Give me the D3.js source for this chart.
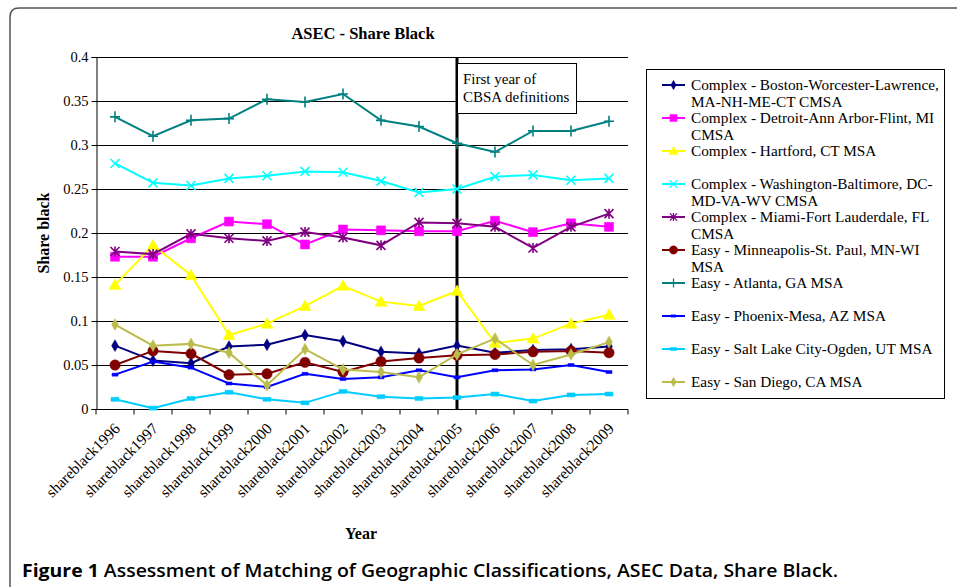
<!DOCTYPE html>
<html>
<head>
<meta charset="utf-8">
<script src="https://cdn.jsdelivr.net/npm/d3@7"></script>
<style>
  body { margin: 0; background: #fff; }
  svg { display: block; }
  text { font-family: "Liberation Serif", "Times New Roman", serif; fill: #000; }
</style>
</head>
<body>
<svg width="957" height="587"></svg>
<script>
// categories on the x axis
var years = ["shareblack1996", "shareblack1997", "shareblack1998", "shareblack1999", "shareblack2000",
  "shareblack2001", "shareblack2002", "shareblack2003", "shareblack2004", "shareblack2005",
  "shareblack2006", "shareblack2007", "shareblack2008", "shareblack2009"];

var yTicks = [0, 0.05, 0.1, 0.15, 0.2, 0.25, 0.3, 0.35, 0.4];

var boston      = [0.072, 0.055, 0.052, 0.071, 0.073, 0.084, 0.077, 0.065, 0.063, 0.072, 0.064, 0.067, 0.068, 0.071];
var detroit     = [0.173, 0.173, 0.194, 0.213, 0.210, 0.187, 0.204, 0.203, 0.202, 0.202, 0.214, 0.201, 0.211, 0.207];
var hartford    = [0.141, 0.186, 0.152, 0.084, 0.097, 0.117, 0.140, 0.122, 0.117, 0.134, 0.075, 0.080, 0.097, 0.107];
var washington  = [0.279, 0.257, 0.254, 0.262, 0.265, 0.270, 0.269, 0.259, 0.246, 0.250, 0.264, 0.266, 0.260, 0.262];
var miami       = [0.179, 0.176, 0.199, 0.194, 0.191, 0.201, 0.195, 0.186, 0.212, 0.211, 0.207, 0.183, 0.207, 0.222];
var minneapolis = [0.050, 0.066, 0.063, 0.039, 0.040, 0.053, 0.042, 0.054, 0.058, 0.061, 0.062, 0.065, 0.066, 0.064];
var atlanta     = [0.332, 0.310, 0.328, 0.330, 0.352, 0.349, 0.358, 0.328, 0.321, 0.302, 0.292, 0.316, 0.316, 0.327];
var phoenix     = [0.039, 0.054, 0.047, 0.029, 0.025, 0.040, 0.034, 0.036, 0.044, 0.036, 0.044, 0.045, 0.050, 0.042];
var saltLake    = [0.011, 0.001, 0.012, 0.019, 0.011, 0.007, 0.020, 0.014, 0.012, 0.013, 0.017, 0.009, 0.016, 0.017];
var sanDiego    = [0.096, 0.072, 0.074, 0.064, 0.027, 0.068, 0.045, 0.042, 0.036, 0.062, 0.080, 0.050, 0.062, 0.076];

var seriesNames = [
  ["Complex - Boston-Worcester-Lawrence,", "MA-NH-ME-CT CMSA"],
  ["Complex - Detroit-Ann Arbor-Flint, MI", "CMSA"],
  ["Complex - Hartford, CT MSA"],
  ["Complex - Washington-Baltimore, DC-", "MD-VA-WV CMSA"],
  ["Complex - Miami-Fort Lauderdale, FL", "CMSA"],
  ["Easy - Minneapolis-St. Paul, MN-WI", "MSA"],
  ["Easy - Atlanta, GA MSA"],
  ["Easy - Phoenix-Mesa, AZ MSA"],
  ["Easy - Salt Lake City-Ogden, UT MSA"],
  ["Easy - San Diego, CA MSA"]
];
var seriesValues = [boston, detroit, hartford, washington, miami, minneapolis, atlanta, phoenix, saltLake, sanDiego];
var seriesColors = ["#000080", "#ff00ff", "#ffff00", "#00ffff", "#800080", "#800000", "#008080", "#0000ff", "#00ccff", "#bcbc4c"];
var seriesMarkers = ["diamond", "square", "triangle", "x", "star", "circle", "plus", "dash", "bar", "diamond"];

var cbsaYear = "shareblack2005";

var svg = d3.select("svg");
var margin = {left: 96, right: 628, top: 57, bottom: 409};

// outer figure frame
svg.append("path")
  .attr("d", "M10,587 L10,17 Q10,8 19,8 L957,8")
  .style("fill", "none")
  .style("stroke", "#555")
  .style("stroke-width", 1.5);

var x = d3.scaleBand().domain(years).range([margin.left, margin.right]);
var y = d3.scaleLinear().domain([0, 0.4]).range([margin.bottom, margin.top]);
var cx = function(d) { return x(d) + x.bandwidth() / 2; };

// gridlines
svg.append("g").selectAll("line")
  .data(yTicks.filter(function(t) { return t > 0; }))
  .enter().append("line")
  .attr("x1", margin.left).attr("x2", margin.right)
  .attr("y1", function(d) { return Math.round(y(d)) + 0.5; })
  .attr("y2", function(d) { return Math.round(y(d)) + 0.5; })
  .style("stroke", "#000").style("stroke-width", 1);

// y axis
var yAxis = svg.append("g")
  .attr("transform", "translate(" + (margin.left + 0.5) + ",0)")
  .call(d3.axisLeft(y).tickValues(yTicks).tickSize(5).tickPadding(3).tickFormat(function(d) { return String(d); }));
yAxis.selectAll("text").style("font-family", "Liberation Serif").style("font-size", "14.5px");

// x axis, ticks between categories
var xAxis = svg.append("g")
  .attr("transform", "translate(0," + (margin.bottom + 0.5) + ")");
xAxis.append("line")
  .attr("x1", margin.left).attr("x2", margin.right)
  .style("stroke", "#000");
xAxis.selectAll("line.tk")
  .data(years.concat(["end"]))
  .enter().append("line")
  .attr("class", "tk")
  .attr("x1", function(d, i) { return margin.left + i * x.bandwidth(); })
  .attr("x2", function(d, i) { return margin.left + i * x.bandwidth(); })
  .attr("y1", 0).attr("y2", 5)
  .style("stroke", "#000");
xAxis.selectAll("text")
  .data(years)
  .enter().append("text")
  .attr("text-anchor", "end")
  .attr("transform", function(d) { return "translate(" + (cx(d) + 6) + ",20) rotate(-45)"; })
  .style("font-size", "15.5px")
  .text(function(d) { return d; });

// CBSA marker line
svg.append("line")
  .attr("x1", cx(cbsaYear)).attr("x2", cx(cbsaYear))
  .attr("y1", margin.top).attr("y2", margin.bottom + 1)
  .style("stroke", "#000").style("stroke-width", 3);

svg.append("rect")
  .attr("x", cx(cbsaYear) + 0.5).attr("y", 63.5)
  .attr("width", 119).attr("height", 50)
  .style("fill", "#fff").style("stroke", "#000");
svg.append("text").attr("x", cx(cbsaYear) + 6).attr("y", 84).style("font-size", "15px").text("First year of");
svg.append("text").attr("x", cx(cbsaYear) + 6).attr("y", 102).style("font-size", "15px").text("CBSA definitions");

function markerPath(kind) {
  switch (kind) {
    case "diamond": return d3.symbol(d3.symbolDiamond, 40)();
    case "square": return "M-4.5,-4.5h9v9h-9z";
    case "triangle": return "M0,-6L6,4.5L-6,4.5Z";
    case "circle": return d3.symbol(d3.symbolCircle, 85)();
    case "x": return "M-4.5,-4.5L4.5,4.5M-4.5,4.5L4.5,-4.5";
    case "star": return "M-4.5,-4.5L4.5,4.5M-4.5,4.5L4.5,-4.5M0,-5L0,5";
    case "plus": return "M-5,0L5,0M0,-5.5L0,5.5";
    case "dash": return "M-3,-1.5h6v3h-6z";
    case "bar": return "M-4,-2h8v4h-8z";
  }
}
var strokeMarkers = {x: true, star: true, plus: true};

var line = d3.line()
  .x(function(d, i) { return cx(years[i]); })
  .y(function(d) { return y(d); });

seriesValues.forEach(function(vals, s) {
  var g = svg.append("g");
  g.append("path")
    .attr("d", line(vals))
    .style("fill", "none")
    .style("stroke", seriesColors[s])
    .style("stroke-width", 2);
  g.selectAll("path.m")
    .data(vals)
    .enter().append("path")
    .attr("class", "m")
    .attr("d", markerPath(seriesMarkers[s]))
    .attr("transform", function(d, i) { return "translate(" + cx(years[i]) + "," + y(d) + ")"; })
    .style("fill", strokeMarkers[seriesMarkers[s]] ? "none" : seriesColors[s])
    .style("stroke", seriesColors[s])
    .style("stroke-width", strokeMarkers[seriesMarkers[s]] ? 1.6 : 0.5);
});

// legend
var legend = svg.append("g");
legend.append("rect")
  .attr("x", 646.5).attr("y", 69.5)
  .attr("width", 298).attr("height", 329)
  .style("fill", "#fff").style("stroke", "#000");
var legendY = d3.scaleLinear().domain([0, 9]).range([85, 382]);
seriesNames.forEach(function(lines, s) {
  var ly = legendY(s);
  var e = legend.append("g");
  e.append("line")
    .attr("x1", 662).attr("x2", 685)
    .attr("y1", ly).attr("y2", ly)
    .style("stroke", seriesColors[s]).style("stroke-width", 2);
  e.append("path")
    .attr("d", markerPath(seriesMarkers[s]))
    .attr("transform", "translate(673.5," + ly + ") scale(0.8)")
    .style("fill", strokeMarkers[seriesMarkers[s]] ? "none" : seriesColors[s])
    .style("stroke", seriesColors[s])
    .style("stroke-width", strokeMarkers[seriesMarkers[s]] ? 1.6 : 0.5);
  lines.forEach(function(t, k) {
    e.append("text")
      .attr("x", 691).attr("y", ly + 5 + k * 17)
      .style("font-size", "15.3px")
      .text(t);
  });
});

// titles
svg.append("text")
  .attr("x", 363).attr("y", 39)
  .attr("text-anchor", "middle")
  .style("font-size", "16.5px").style("font-weight", "bold")
  .text("ASEC - Share Black");
svg.append("text")
  .attr("x", 361).attr("y", 539)
  .attr("text-anchor", "middle")
  .style("font-size", "16px").style("font-weight", "bold")
  .text("Year");
svg.append("text")
  .attr("transform", "translate(49,233) rotate(-90)")
  .attr("text-anchor", "middle")
  .style("font-size", "16px").style("font-weight", "bold")
  .text("Share black");

// figure caption
var cap = svg.append("text")
  .attr("x", 22).attr("y", 577)
  .attr("textLength", 816).attr("lengthAdjust", "spacingAndGlyphs")
  .style("font-family", "'Open Sans', sans-serif")
  .style("font-size", "18px").style("font-weight", 600);
cap.append("tspan").style("font-weight", 700).style("font-family", "'Open Sans', sans-serif").text("Figure 1");
cap.append("tspan").style("font-family", "'Open Sans', sans-serif").text(" Assessment of Matching of Geographic Classifications, ASEC Data, Share Black.");
</script>
</body>
</html>
